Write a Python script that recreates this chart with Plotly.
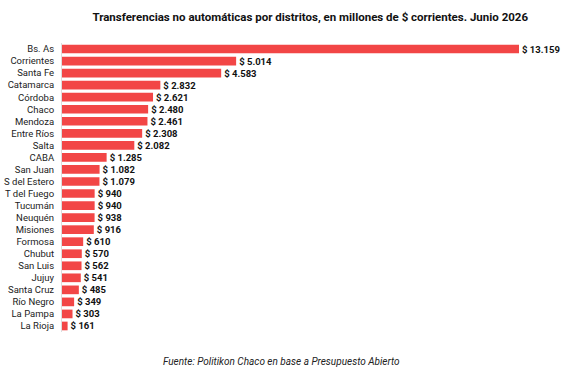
import plotly.graph_objects as go

provincias = ["Bs. As", "Corrientes", "Santa Fe", "Catamarca", "Córdoba", "Chaco", "Mendoza",
              "Entre Ríos", "Salta", "CABA", "San Juan", "S del Estero", "T del Fuego", "Tucumán",
              "Neuquén", "Misiones", "Formosa", "Chubut", "San Luis", "Jujuy", "Santa Cruz",
              "Río Negro", "La Pampa", "La Rioja"]
valores = [13159, 5014, 4583, 2832, 2621, 2480, 2461, 2308, 2082, 1285, 1082, 1079, 940, 940,
           938, 916, 610, 570, 562, 541, 485, 349, 303, 161]
etiquetas = ["$ " + f"{v:,}".replace(",", ".") for v in valores]

FONT = "Roboto, 'Liberation Sans Narrow', Arial, sans-serif"

fig = go.Figure(go.Bar(
    x=valores, y=provincias, orientation="h",
    marker=dict(color="#F24646", line=dict(width=0)),
    text=etiquetas, textposition="outside", cliponaxis=False, constraintext="none",
    textfont=dict(family=FONT, size=9.5, color="#111111", weight="bold"),
    width=0.72,
))

fig.update_layout(
    width=562, height=377,
    margin=dict(l=62, r=0, t=43, b=45),
    paper_bgcolor="white", plot_bgcolor="white",
    showlegend=False,
    title=dict(text="<b>Transferencias no automáticas por distritos, en millones de $ corrientes. Junio 2026</b>",
               x=0.552, xanchor="center", y=1 - 17 / 377, yanchor="middle",
               font=dict(family=FONT, size=11.5, color="#111111")),
    xaxis=dict(range=[0, 14397], visible=False),
    yaxis=dict(autorange="reversed", showgrid=False, showline=True, linecolor="#dddddd",
               linewidth=1, ticks="", ticklabelstandoff=5,
               tickfont=dict(family=FONT, size=9.5, color="#222222")),
    annotations=[dict(text="<i>Fuente: Politikon Chaco en base a Presupuesto Abierto</i>",
                      xref="paper", yref="paper", x=(281 - 62) / 500, y=-(361 - 332) / 289,
                      xanchor="center", yanchor="middle", showarrow=False,
                      font=dict(family=FONT, size=10, color="#222222"))],
)

fig.write_html("out.html")
